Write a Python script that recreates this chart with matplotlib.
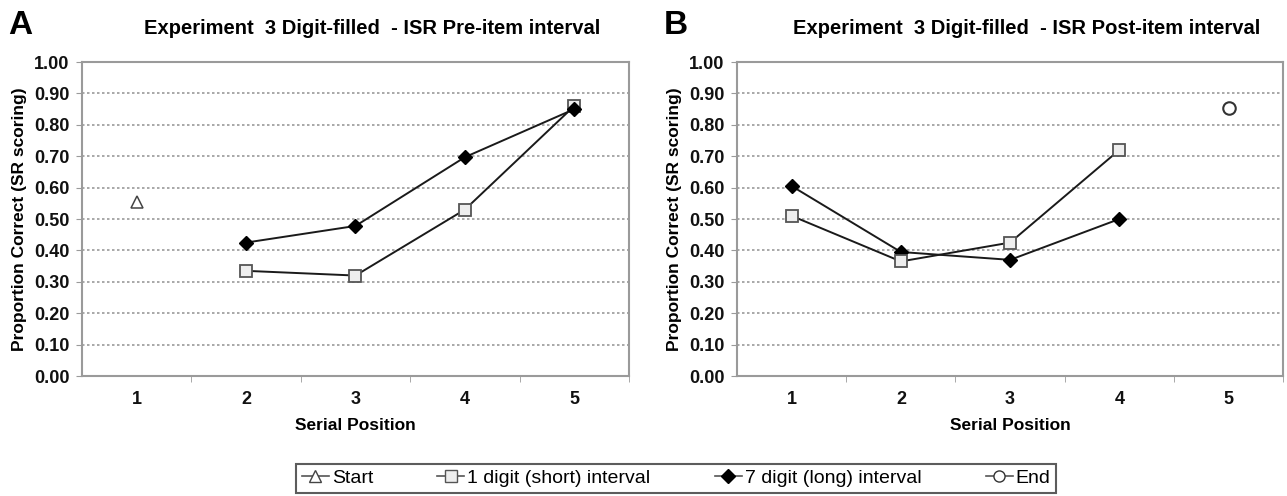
import numpy as np
import matplotlib.pyplot as plt
from matplotlib.lines import Line2D

plt.rcParams['font.family'] = ['Liberation Sans', 'DejaVu Sans']

positions = [1, 2, 3, 4, 5]

# Panel A - pre-item interval
pre_start_x = [1]
pre_start = [0.555]
pre_short_x = [2, 3, 4, 5]
pre_short = [0.335, 0.32, 0.53, 0.86]
pre_long_x = [2, 3, 4, 5]
pre_long = [0.425, 0.478, 0.697, 0.85]

# Panel B - post-item interval
post_short_x = [1, 2, 3, 4]
post_short = [0.51, 0.365, 0.425, 0.72]
post_long_x = [1, 2, 3, 4]
post_long = [0.605, 0.395, 0.37, 0.50]
post_end_x = [5]
post_end = [0.855]

titles = ['Experiment  3 Digit-filled  - ISR Pre-item interval',
          'Experiment  3 Digit-filled  - ISR Post-item interval']
panel_letters = ['A', 'B']

fig = plt.figure(figsize=(12.87, 4.96), dpi=100)
ax_a = fig.add_axes([0.0637, 0.2419, 0.425, 0.633])
ax_b = fig.add_axes([0.5727, 0.2419, 0.4243, 0.633])

GRID = '#9a9a9a'
LINE = '#1a1a1a'


def style_axes(ax, title):
    ax.set_xlim(0.5, 5.5)
    ax.set_ylim(0, 1.0)
    ax.set_yticks(np.arange(0, 1.01, 0.1))
    ax.set_yticklabels([f'{v:.2f}' for v in np.arange(0, 1.01, 0.1)])
    ax.set_xticks(positions)
    ax.set_xticklabels([str(p) for p in positions])
    ax.set_xticks([1.5, 2.5, 3.5, 4.5, 5.5], minor=True)
    ax.tick_params(axis='x', which='major', length=0, pad=11)
    ax.tick_params(axis='x', which='minor', length=4, color=GRID, direction='out')
    ax.tick_params(axis='y', length=4, color=GRID, direction='out', pad=5)
    for lab in ax.get_xticklabels() + ax.get_yticklabels():
        lab.set_fontsize(13)
        lab.set_fontweight('bold')
        lab.set_color('#111111')
    ax.yaxis.grid(True, linestyle=(0, (1.5, 1.5)), color=GRID, linewidth=1.2)
    ax.set_axisbelow(True)
    for s in ax.spines.values():
        s.set_color(GRID)
        s.set_linewidth(1.5)
    ax.set_ylabel('Proportion Correct (SR scoring)', fontsize=12.5,
                  fontweight='bold', labelpad=5)
    ax.set_xlabel('Serial Position', fontsize=12.5, fontweight='bold', labelpad=7)
    ax.set_title(title, fontsize=14.5, fontweight='bold', pad=20, x=0.53)


style_axes(ax_a, titles[0])
style_axes(ax_b, titles[1])

sq = dict(marker='s', markersize=9, markerfacecolor='#eeeeee',
          markeredgecolor='#555555', markeredgewidth=1.3)
dm = dict(marker='D', markersize=7, markerfacecolor='black', markeredgecolor='black')

ax_a.plot(pre_start_x, pre_start, linestyle='none', marker='^', markersize=8,
          markerfacecolor='white', markeredgecolor='#444444', markeredgewidth=1.1)
ax_a.plot(pre_short_x, pre_short, color=LINE, linewidth=1.4, **sq)
ax_a.plot(pre_long_x, pre_long, color=LINE, linewidth=1.4, **dm)

ax_b.plot(post_long_x, post_long, color=LINE, linewidth=1.4, **dm)
ax_b.plot(post_short_x, post_short, color=LINE, linewidth=1.4, **sq)
ax_b.plot(post_end_x, post_end, linestyle='none', marker='o', markersize=9,
          markerfacecolor='white', markeredgecolor='#333333', markeredgewidth=1.5)

for ax, letter in zip([ax_a, ax_b], panel_letters):
    ax.text(-0.135, 1.118, letter, transform=ax.transAxes, fontsize=24,
            fontweight='bold', ha='left', va='center')

handles = [
    Line2D([], [], color='#555555', lw=1.2, marker='^', markersize=8,
           markerfacecolor='white', markeredgecolor='#444444'),
    Line2D([], [], color='#555555', lw=1.2, marker='s', markersize=9,
           markerfacecolor='#eeeeee', markeredgecolor='#555555'),
    Line2D([], [], color='#555555', lw=1.2, marker='D', markersize=7,
           markerfacecolor='black', markeredgecolor='black'),
    Line2D([], [], color='#555555', lw=1.2, marker='o', markersize=8,
           markerfacecolor='white', markeredgecolor='#333333'),
]
labels = ['Start', '1 digit (short) interval', '7 digit (long) interval', 'End']
leg = fig.legend(handles, labels, loc='center', bbox_to_anchor=(0.5253, 0.0353),
                 ncol=4, frameon=True, fancybox=False, fontsize=14,
                 handlelength=1.4, handletextpad=0.15, columnspacing=3.3,
                 borderpad=0.3, borderaxespad=0)
leg.get_frame().set_edgecolor('#333333')
leg.get_frame().set_linewidth(1.5)

fig.savefig('out.png', dpi=100)
